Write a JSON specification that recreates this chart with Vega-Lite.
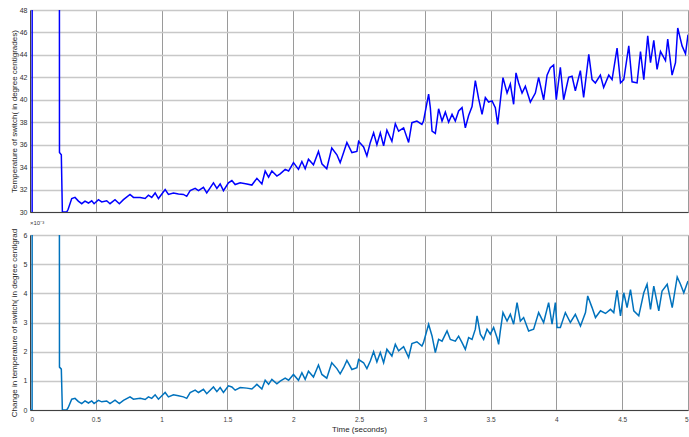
{
  "$schema": "https://vega.github.io/schema/vega-lite/v6.json",
  "padding": {"left": 9, "top": 5, "right": 1, "bottom": 2},
  "spacing": 23,
  "bounds": "flush",
  "config": {
    "font": "Liberation Sans",
    "view": {"stroke": "#8c8c8c", "strokeWidth": 1},
    "axis": {
      "labelFont": "Liberation Sans",
      "titleFont": "Liberation Sans",
      "labelFontSize": 7,
      "labelColor": "#303030",
      "titleColor": "#262626",
      "titleFontSize": 8,
      "titleFontWeight": "normal",
      "ticks": false,
      "domainColor": "#404040",
      "domainWidth": 1
    },
    "axisX": {"gridColor": "#9a9a9a", "gridWidth": 1, "gridOpacity": 1},
    "axisY": {"gridColor": "#c8c8c8", "gridWidth": 1.5, "gridOpacity": 1, "minExtent": 10, "maxExtent": 10, "titlePadding": 2, "labelPadding": 3}
  },
  "datasets": {
    "temp": [
      {"t": 0, "v": 0}, {"t": 0.016, "v": 0}, {"t": 0.017, "v": 100}, {"t": 0.222, "v": 100},
      {"t": 0.224, "v": 35.3}, {"t": 0.238, "v": 35.1}, {"t": 0.246, "v": 30.0}, {"t": 0.279, "v": 30.0},
      {"t": 0.29, "v": 30.24}, {"t": 0.317, "v": 31.2}, {"t": 0.342, "v": 31.3}, {"t": 0.368, "v": 30.97},
      {"t": 0.393, "v": 30.74}, {"t": 0.418, "v": 30.97}, {"t": 0.444, "v": 30.8}, {"t": 0.469, "v": 31.0},
      {"t": 0.487, "v": 30.74}, {"t": 0.52, "v": 31.1}, {"t": 0.545, "v": 30.9}, {"t": 0.583, "v": 31.0},
      {"t": 0.608, "v": 30.74}, {"t": 0.646, "v": 31.1}, {"t": 0.679, "v": 30.74}, {"t": 0.71, "v": 31.1},
      {"t": 0.76, "v": 31.57}, {"t": 0.786, "v": 31.3}, {"t": 0.837, "v": 31.3}, {"t": 0.875, "v": 31.2},
      {"t": 0.9, "v": 31.5}, {"t": 0.925, "v": 31.3}, {"t": 0.951, "v": 31.7}, {"t": 0.976, "v": 31.2},
      {"t": 1.027, "v": 32.0}, {"t": 1.052, "v": 31.57}, {"t": 1.09, "v": 31.7}, {"t": 1.128, "v": 31.6},
      {"t": 1.166, "v": 31.57}, {"t": 1.191, "v": 31.4}, {"t": 1.217, "v": 31.9}, {"t": 1.255, "v": 32.1},
      {"t": 1.28, "v": 31.9}, {"t": 1.318, "v": 32.2}, {"t": 1.343, "v": 31.7}, {"t": 1.394, "v": 32.6},
      {"t": 1.42, "v": 32.1}, {"t": 1.445, "v": 32.5}, {"t": 1.47, "v": 31.9}, {"t": 1.508, "v": 32.6},
      {"t": 1.534, "v": 32.8}, {"t": 1.559, "v": 32.45}, {"t": 1.597, "v": 32.6}, {"t": 1.648, "v": 32.5},
      {"t": 1.686, "v": 32.4}, {"t": 1.724, "v": 33.0}, {"t": 1.762, "v": 32.5}, {"t": 1.787, "v": 33.65},
      {"t": 1.813, "v": 33.1}, {"t": 1.838, "v": 33.65}, {"t": 1.876, "v": 33.2}, {"t": 1.901, "v": 33.4},
      {"t": 1.939, "v": 33.8}, {"t": 1.965, "v": 33.65}, {"t": 2.002, "v": 34.4}, {"t": 2.04, "v": 33.8},
      {"t": 2.066, "v": 34.5}, {"t": 2.091, "v": 33.85}, {"t": 2.116, "v": 34.7}, {"t": 2.154, "v": 34.2},
      {"t": 2.192, "v": 35.4}, {"t": 2.218, "v": 34.3}, {"t": 2.255, "v": 33.85}, {"t": 2.293, "v": 35.7},
      {"t": 2.332, "v": 35.1}, {"t": 2.357, "v": 34.4}, {"t": 2.383, "v": 35.3}, {"t": 2.408, "v": 36.2},
      {"t": 2.446, "v": 35.3}, {"t": 2.484, "v": 35.4}, {"t": 2.497, "v": 36.3}, {"t": 2.535, "v": 35.8},
      {"t": 2.56, "v": 35.0}, {"t": 2.586, "v": 36.2}, {"t": 2.611, "v": 37.06}, {"t": 2.636, "v": 36.0},
      {"t": 2.662, "v": 37.06}, {"t": 2.687, "v": 35.9}, {"t": 2.712, "v": 37.3}, {"t": 2.75, "v": 36.3},
      {"t": 2.776, "v": 37.87}, {"t": 2.801, "v": 37.2}, {"t": 2.839, "v": 37.5}, {"t": 2.877, "v": 36.2},
      {"t": 2.902, "v": 37.96}, {"t": 2.94, "v": 38.1}, {"t": 2.978, "v": 37.8}, {"t": 2.99, "v": 38.1},
      {"t": 3.029, "v": 40.5}, {"t": 3.042, "v": 39.3}, {"t": 3.055, "v": 37.2}, {"t": 3.08, "v": 37.0},
      {"t": 3.105, "v": 39.2}, {"t": 3.131, "v": 38.1}, {"t": 3.156, "v": 38.9}, {"t": 3.181, "v": 38.0},
      {"t": 3.207, "v": 38.7}, {"t": 3.232, "v": 38.1}, {"t": 3.257, "v": 39.0}, {"t": 3.283, "v": 39.3},
      {"t": 3.308, "v": 37.5}, {"t": 3.333, "v": 38.6}, {"t": 3.359, "v": 39.4}, {"t": 3.384, "v": 41.7},
      {"t": 3.409, "v": 40.1}, {"t": 3.435, "v": 38.7}, {"t": 3.46, "v": 40.2}, {"t": 3.485, "v": 39.8},
      {"t": 3.511, "v": 39.9}, {"t": 3.536, "v": 39.3}, {"t": 3.554, "v": 37.8}, {"t": 3.574, "v": 39.9},
      {"t": 3.594, "v": 41.97}, {"t": 3.625, "v": 40.6}, {"t": 3.65, "v": 41.4}, {"t": 3.675, "v": 39.6},
      {"t": 3.693, "v": 42.4}, {"t": 3.713, "v": 41.5}, {"t": 3.739, "v": 40.6}, {"t": 3.764, "v": 41.2},
      {"t": 3.802, "v": 39.8}, {"t": 3.84, "v": 40.6}, {"t": 3.865, "v": 42.0}, {"t": 3.903, "v": 40.0},
      {"t": 3.929, "v": 42.2}, {"t": 3.954, "v": 42.86}, {"t": 3.979, "v": 43.1}, {"t": 3.999, "v": 40.0},
      {"t": 4.03, "v": 42.9}, {"t": 4.055, "v": 40.0}, {"t": 4.093, "v": 42.0}, {"t": 4.119, "v": 42.1},
      {"t": 4.144, "v": 40.8}, {"t": 4.182, "v": 42.6}, {"t": 4.207, "v": 40.2}, {"t": 4.246, "v": 44.05},
      {"t": 4.271, "v": 41.8}, {"t": 4.296, "v": 41.5}, {"t": 4.334, "v": 42.2}, {"t": 4.359, "v": 41.1},
      {"t": 4.398, "v": 42.2}, {"t": 4.423, "v": 41.8}, {"t": 4.461, "v": 44.6}, {"t": 4.487, "v": 41.5},
      {"t": 4.512, "v": 41.8}, {"t": 4.55, "v": 44.8}, {"t": 4.575, "v": 41.6}, {"t": 4.613, "v": 41.5},
      {"t": 4.639, "v": 44.3}, {"t": 4.664, "v": 41.8}, {"t": 4.694, "v": 45.7}, {"t": 4.715, "v": 43.3},
      {"t": 4.74, "v": 45.3}, {"t": 4.765, "v": 42.7}, {"t": 4.791, "v": 44.3}, {"t": 4.829, "v": 43.5},
      {"t": 4.846, "v": 45.4}, {"t": 4.879, "v": 42.2}, {"t": 4.905, "v": 43.3}, {"t": 4.922, "v": 46.4},
      {"t": 4.955, "v": 44.8}, {"t": 4.981, "v": 44.1}, {"t": 5.0, "v": 45.8}
    ],
    "change": [
      {"t": 0, "v": 0}, {"t": 0.016, "v": 0}, {"t": 0.017, "v": 20}, {"t": 0.222, "v": 20},
      {"t": 0.224, "v": 1.47}, {"t": 0.238, "v": 1.4}, {"t": 0.246, "v": 0}, {"t": 0.279, "v": 0},
      {"t": 0.29, "v": 0.08}, {"t": 0.317, "v": 0.37}, {"t": 0.342, "v": 0.40}, {"t": 0.368, "v": 0.29},
      {"t": 0.393, "v": 0.22}, {"t": 0.418, "v": 0.31}, {"t": 0.444, "v": 0.24}, {"t": 0.469, "v": 0.31},
      {"t": 0.487, "v": 0.22}, {"t": 0.52, "v": 0.33}, {"t": 0.545, "v": 0.28}, {"t": 0.583, "v": 0.31},
      {"t": 0.608, "v": 0.22}, {"t": 0.646, "v": 0.34}, {"t": 0.679, "v": 0.22}, {"t": 0.71, "v": 0.33},
      {"t": 0.76, "v": 0.45}, {"t": 0.786, "v": 0.37}, {"t": 0.837, "v": 0.40}, {"t": 0.875, "v": 0.36},
      {"t": 0.9, "v": 0.45}, {"t": 0.925, "v": 0.40}, {"t": 0.951, "v": 0.52}, {"t": 0.976, "v": 0.37},
      {"t": 1.027, "v": 0.6}, {"t": 1.052, "v": 0.45}, {"t": 1.09, "v": 0.52}, {"t": 1.128, "v": 0.49},
      {"t": 1.166, "v": 0.45}, {"t": 1.191, "v": 0.40}, {"t": 1.217, "v": 0.6}, {"t": 1.255, "v": 0.68},
      {"t": 1.28, "v": 0.6}, {"t": 1.318, "v": 0.71}, {"t": 1.343, "v": 0.56}, {"t": 1.394, "v": 0.79},
      {"t": 1.42, "v": 0.63}, {"t": 1.445, "v": 0.77}, {"t": 1.47, "v": 0.6}, {"t": 1.508, "v": 0.83},
      {"t": 1.534, "v": 0.79}, {"t": 1.559, "v": 0.68}, {"t": 1.597, "v": 0.77}, {"t": 1.648, "v": 0.75},
      {"t": 1.686, "v": 0.72}, {"t": 1.724, "v": 0.88}, {"t": 1.762, "v": 0.72}, {"t": 1.787, "v": 1.02},
      {"t": 1.813, "v": 0.88}, {"t": 1.838, "v": 1.05}, {"t": 1.876, "v": 0.9}, {"t": 1.901, "v": 0.99},
      {"t": 1.939, "v": 1.09}, {"t": 1.965, "v": 1.02}, {"t": 2.002, "v": 1.22}, {"t": 2.04, "v": 1.02},
      {"t": 2.066, "v": 1.28}, {"t": 2.091, "v": 1.05}, {"t": 2.116, "v": 1.33}, {"t": 2.154, "v": 1.13},
      {"t": 2.192, "v": 1.54}, {"t": 2.218, "v": 1.22}, {"t": 2.255, "v": 1.09}, {"t": 2.293, "v": 1.62},
      {"t": 2.332, "v": 1.42}, {"t": 2.357, "v": 1.24}, {"t": 2.383, "v": 1.45}, {"t": 2.408, "v": 1.7},
      {"t": 2.446, "v": 1.39}, {"t": 2.484, "v": 1.45}, {"t": 2.497, "v": 1.73}, {"t": 2.535, "v": 1.62},
      {"t": 2.56, "v": 1.42}, {"t": 2.586, "v": 1.68}, {"t": 2.611, "v": 2.0}, {"t": 2.636, "v": 1.65},
      {"t": 2.662, "v": 1.97}, {"t": 2.687, "v": 1.62}, {"t": 2.712, "v": 2.08}, {"t": 2.75, "v": 1.85},
      {"t": 2.776, "v": 2.25}, {"t": 2.801, "v": 2.03}, {"t": 2.839, "v": 2.17}, {"t": 2.877, "v": 1.8},
      {"t": 2.902, "v": 2.28}, {"t": 2.94, "v": 2.34}, {"t": 2.978, "v": 2.19}, {"t": 2.99, "v": 2.31},
      {"t": 3.029, "v": 2.94}, {"t": 3.055, "v": 2.54}, {"t": 3.08, "v": 1.97}, {"t": 3.105, "v": 2.42},
      {"t": 3.131, "v": 2.36}, {"t": 3.169, "v": 2.71}, {"t": 3.194, "v": 2.42}, {"t": 3.232, "v": 2.36},
      {"t": 3.257, "v": 2.53}, {"t": 3.283, "v": 2.31}, {"t": 3.308, "v": 2.08}, {"t": 3.333, "v": 2.48},
      {"t": 3.359, "v": 2.42}, {"t": 3.384, "v": 2.77}, {"t": 3.397, "v": 3.23}, {"t": 3.422, "v": 2.6},
      {"t": 3.447, "v": 2.42}, {"t": 3.473, "v": 2.77}, {"t": 3.498, "v": 2.6}, {"t": 3.523, "v": 2.83},
      {"t": 3.549, "v": 2.48}, {"t": 3.561, "v": 2.25}, {"t": 3.574, "v": 2.71}, {"t": 3.594, "v": 3.34},
      {"t": 3.625, "v": 3.05}, {"t": 3.65, "v": 3.28}, {"t": 3.675, "v": 2.94}, {"t": 3.701, "v": 3.68},
      {"t": 3.726, "v": 3.05}, {"t": 3.751, "v": 3.17}, {"t": 3.789, "v": 2.71}, {"t": 3.827, "v": 2.77},
      {"t": 3.865, "v": 3.34}, {"t": 3.903, "v": 3.0}, {"t": 3.941, "v": 3.68}, {"t": 3.967, "v": 2.94},
      {"t": 3.992, "v": 3.68}, {"t": 4.005, "v": 2.83}, {"t": 4.03, "v": 2.83}, {"t": 4.068, "v": 3.34},
      {"t": 4.106, "v": 3.0}, {"t": 4.144, "v": 3.28}, {"t": 4.183, "v": 2.88}, {"t": 4.221, "v": 3.34},
      {"t": 4.238, "v": 3.91}, {"t": 4.271, "v": 3.51}, {"t": 4.297, "v": 3.17}, {"t": 4.335, "v": 3.4},
      {"t": 4.373, "v": 3.31}, {"t": 4.411, "v": 3.45}, {"t": 4.436, "v": 3.34}, {"t": 4.461, "v": 4.1},
      {"t": 4.487, "v": 3.23}, {"t": 4.512, "v": 4.02}, {"t": 4.537, "v": 3.51}, {"t": 4.563, "v": 4.13},
      {"t": 4.588, "v": 3.4}, {"t": 4.626, "v": 3.23}, {"t": 4.664, "v": 4.02}, {"t": 4.689, "v": 4.31},
      {"t": 4.715, "v": 3.45}, {"t": 4.74, "v": 4.25}, {"t": 4.778, "v": 3.4}, {"t": 4.803, "v": 4.08},
      {"t": 4.842, "v": 4.31}, {"t": 4.88, "v": 3.51}, {"t": 4.918, "v": 4.56}, {"t": 4.943, "v": 4.31},
      {"t": 4.968, "v": 4.02}, {"t": 5.0, "v": 4.42}
    ]
  },
  "vconcat": [
    {
      "width": 658,
      "height": 202,
      "data": {"name": "temp"},
      "mark": {"type": "line", "clip": true, "color": "#0000ff", "strokeWidth": 1.5},
      "encoding": {
        "x": {"field": "t", "type": "quantitative",
              "scale": {"domain": [0, 5], "nice": false, "zero": false},
              "axis": {"values": [0, 0.5, 1, 1.5, 2, 2.5, 3, 3.5, 4, 4.5, 5], "labels": false, "title": null, "domain": true}},
        "y": {"field": "v", "type": "quantitative",
              "scale": {"domain": [30, 48], "nice": false, "zero": false},
              "axis": {"values": [30, 32, 34, 36, 38, 40, 42, 44, 46, 48], "title": "Temperature of switch( in degree centigrades)"}}
      }
    },
    {
      "width": 658,
      "height": 175,
      "title": {"text": "×10⁻³", "anchor": "start", "frame": "group", "fontSize": 6, "fontWeight": "normal", "color": "#404040", "offset": 2, "font": "Liberation Sans"},
      "data": {"name": "change"},
      "mark": {"type": "line", "clip": true, "color": "#0072bd", "strokeWidth": 1.5},
      "encoding": {
        "x": {"field": "t", "type": "quantitative",
              "scale": {"domain": [0, 5], "nice": false, "zero": false},
              "axis": {"values": [0, 0.5, 1, 1.5, 2, 2.5, 3, 3.5, 4, 4.5, 5], "format": "~g", "title": "Time (seconds)", "labelPadding": 6, "titlePadding": 3, "labelFontSize": 6.5, "labelColor": "#404040"}},
        "y": {"field": "v", "type": "quantitative",
              "scale": {"domain": [0, 6], "nice": false, "zero": false},
              "axis": {"values": [0, 1, 2, 3, 4, 5, 6], "title": "Change in temperature of switch( in degree centigrad"}}
      }
    }
  ]
}
